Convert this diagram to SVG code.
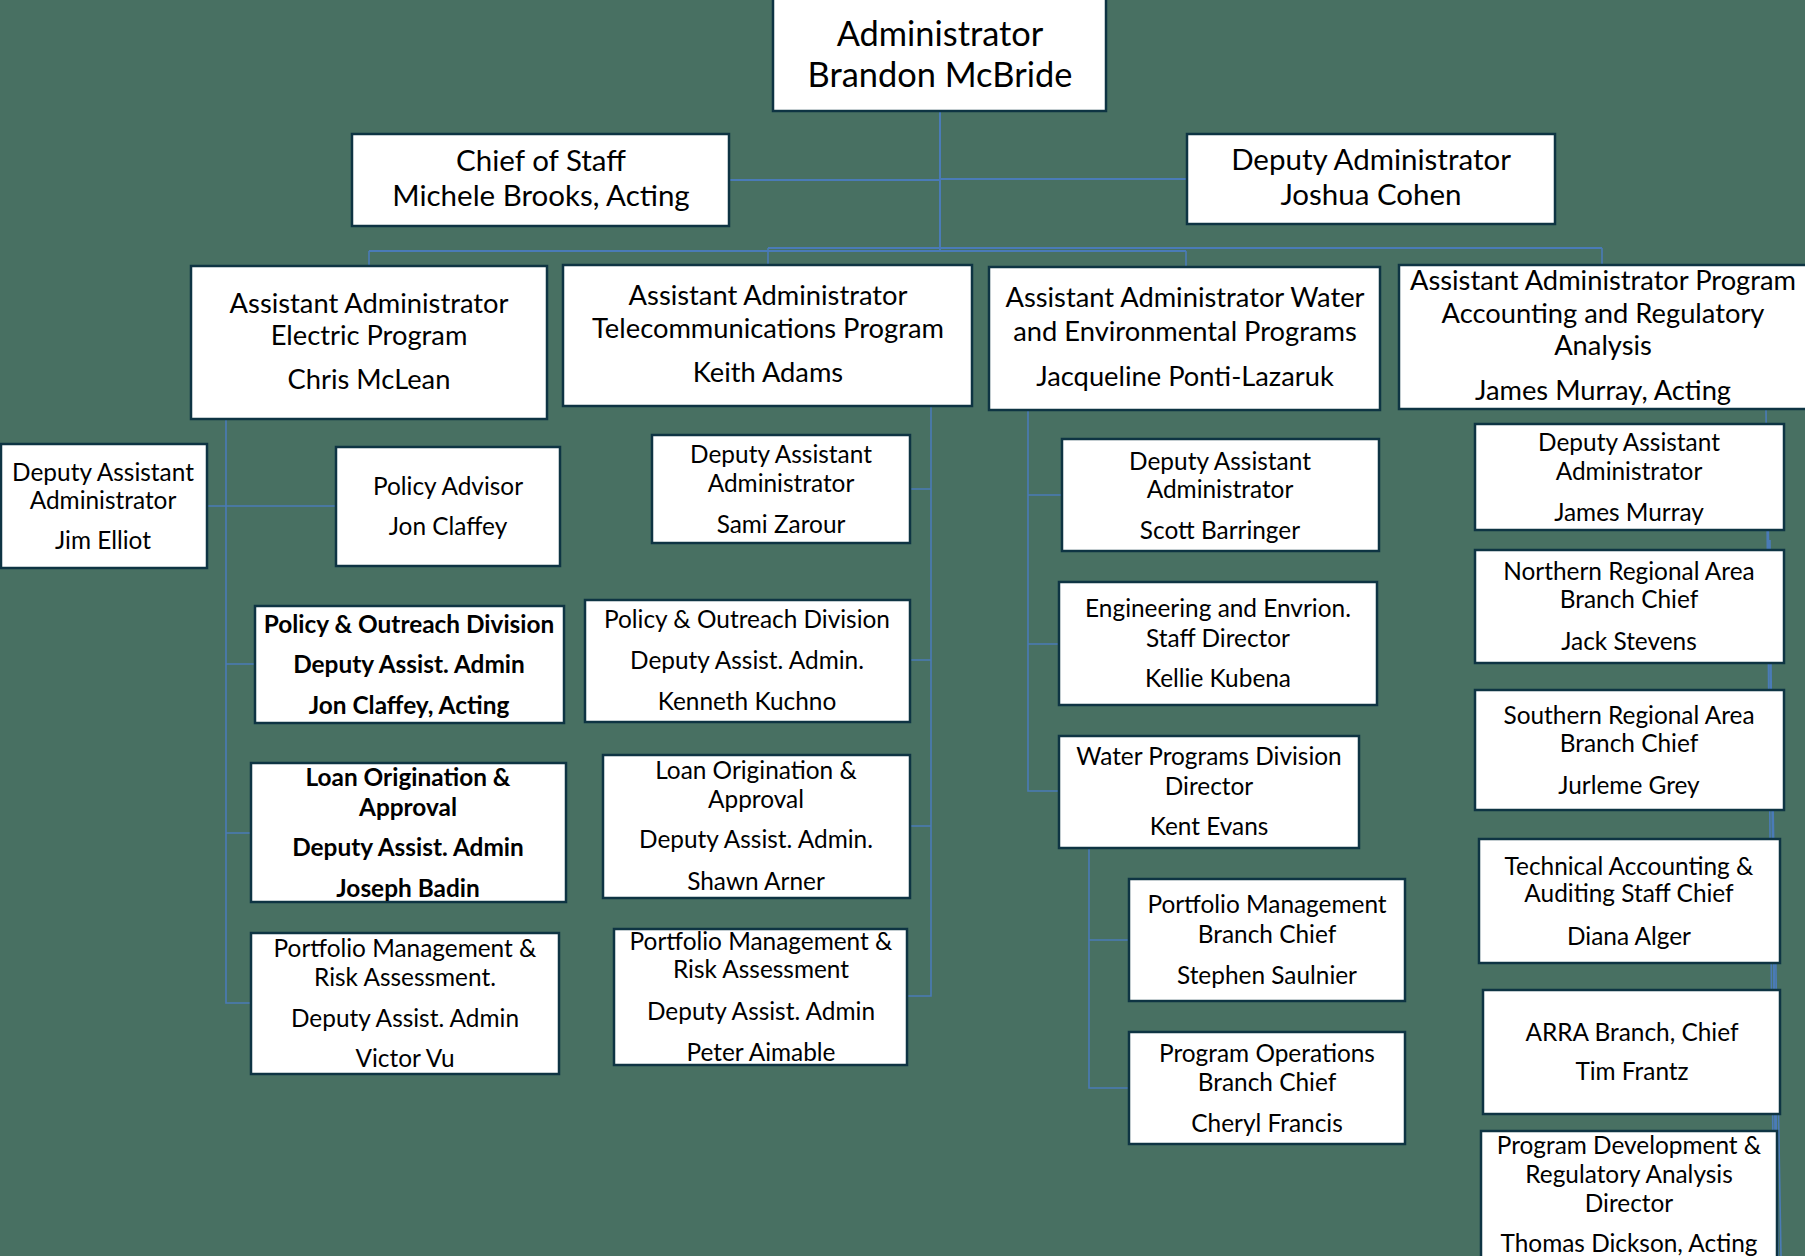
<svg xmlns="http://www.w3.org/2000/svg" width="1805" height="1256" viewBox="0 0 1805 1256">
<style>
.box{fill:#fff;stroke:#0e3443;stroke-width:2.5}
.c{fill:none;stroke:#4a7bb7;stroke-width:1.6}
.c2{fill:none;stroke:#4a7bb7;stroke-width:2}
text{font-family:Lato,"Liberation Sans",sans-serif;fill:#000;text-anchor:middle}
.t1{font-size:34.4px}
.t2{font-size:29.5px}
.t3{font-size:27.3px}
.t4{font-size:24.4px}
.b{font-weight:bold}
</style>
<rect width="1805" height="1256" fill="#487062"/>
<g id="connectors">
<path class="c2" d="M940 112V251M729 180H940M940 179H1187"/>
<path class="c2" d="M369 251H1186M768 248H1602"/>
<path class="c" d="M369 251V266M768 248V265M1186 251V267M1602 248V265"/>
<path class="c" d="M226 419V1003H251M207 506H336M226 664H255M226 833H251"/>
<path class="c" d="M931 406V996H907M910 489H931M910 660H931M910 826H931"/>
<path class="c" d="M1028 410V791H1059M1028 495H1062M1028 644H1059"/>
<path class="c" d="M1089 848V1088H1129M1089 940H1129"/>
<path class="c" d="M1766 409L1774 1256M1767 430L1778 1256M1768 520L1781 1256M1770 540L1776 1256"/>
</g>
<g id="admin"><rect class="box" x="773" y="-3" width="333" height="114"/><text class="t1" x="940" y="46">Administrator</text><text class="t1" x="940" y="87">Brandon McBride</text></g>
<g id="chief"><rect class="box" x="352" y="134" width="377" height="92"/><text class="t2" x="541" y="171">Chief of Staff</text><text class="t2" x="541" y="206">Michele Brooks, Acting</text></g>
<g id="deputy"><rect class="box" x="1187" y="134" width="368" height="90"/><text class="t2" x="1371" y="170">Deputy Administrator</text><text class="t2" x="1371" y="205">Joshua Cohen</text></g>
<g id="aa-electric"><rect class="box" x="191" y="266" width="356" height="153"/><text class="t3" x="369" y="313">Assistant Administrator</text><text class="t3" x="369" y="345">Electric Program</text><text class="t3" x="369" y="389">Chris McLean</text></g>
<g id="aa-telecom"><rect class="box" x="563" y="265" width="409" height="141"/><text class="t3" x="768" y="305">Assistant Administrator</text><text class="t3" x="768" y="338">Telecommunications Program</text><text class="t3" x="768" y="382">Keith Adams</text></g>
<g id="aa-water"><rect class="box" x="989" y="267" width="391" height="143"/><text class="t3" x="1185" y="307">Assistant Administrator Water</text><text class="t3" x="1185" y="341">and Environmental Programs</text><text class="t3" x="1185" y="386">Jacqueline Ponti-Lazaruk</text></g>
<g id="aa-program"><rect class="box" x="1399" y="265" width="412" height="144"/><text class="t3" x="1603" y="290">Assistant Administrator Program</text><text class="t3" x="1603" y="323">Accounting and Regulatory</text><text class="t3" x="1603" y="355">Analysis</text><text class="t3" x="1603" y="400">James Murray, Acting</text></g>
<g id="jim-elliot"><rect class="box" x="1" y="444" width="206" height="124"/><text class="t4" x="103" y="481">Deputy Assistant</text><text class="t4" x="103" y="509">Administrator</text><text class="t4" x="103" y="549">Jim Elliot</text></g>
<g id="policy-advisor"><rect class="box" x="336" y="447" width="224" height="119"/><text class="t4" x="448" y="495">Policy Advisor</text><text class="t4" x="448" y="535">Jon Claffey</text></g>
<g id="electric-policy"><rect class="box" x="255" y="606" width="309" height="117"/><text class="t4 b" x="409" y="633">Policy &amp; Outreach Division</text><text class="t4 b" x="409" y="673">Deputy Assist. Admin</text><text class="t4 b" x="409" y="714">Jon Claffey, Acting</text></g>
<g id="electric-loan"><rect class="box" x="251" y="763" width="315" height="139"/><text class="t4 b" x="408" y="786">Loan Origination &amp;</text><text class="t4 b" x="408" y="816">Approval</text><text class="t4 b" x="408" y="856">Deputy Assist. Admin</text><text class="t4 b" x="408" y="897">Joseph Badin</text></g>
<g id="electric-portfolio"><rect class="box" x="251" y="933" width="308" height="141"/><text class="t4" x="405" y="957">Portfolio Management &amp;</text><text class="t4" x="405" y="986">Risk Assessment.</text><text class="t4" x="405" y="1027">Deputy Assist. Admin</text><text class="t4" x="405" y="1067">Victor Vu</text></g>
<g id="sami"><rect class="box" x="652" y="435" width="258" height="108"/><text class="t4" x="781" y="463">Deputy Assistant</text><text class="t4" x="781" y="492">Administrator</text><text class="t4" x="781" y="533">Sami Zarour</text></g>
<g id="telecom-policy"><rect class="box" x="585" y="600" width="325" height="122"/><text class="t4" x="747" y="628">Policy &amp; Outreach Division</text><text class="t4" x="747" y="669">Deputy Assist. Admin.</text><text class="t4" x="747" y="710">Kenneth Kuchno</text></g>
<g id="telecom-loan"><rect class="box" x="603" y="755" width="307" height="143"/><text class="t4" x="756" y="779">Loan Origination &amp;</text><text class="t4" x="756" y="808">Approval</text><text class="t4" x="756" y="848">Deputy Assist. Admin.</text><text class="t4" x="756" y="890">Shawn Arner</text></g>
<g id="telecom-portfolio"><rect class="box" x="614" y="929" width="293" height="136"/><text class="t4" x="761" y="950">Portfolio Management &amp;</text><text class="t4" x="761" y="978">Risk Assessment</text><text class="t4" x="761" y="1020">Deputy Assist. Admin</text><text class="t4" x="761" y="1061">Peter Aimable</text></g>
<g id="scott"><rect class="box" x="1062" y="439" width="317" height="112"/><text class="t4" x="1220" y="470">Deputy Assistant</text><text class="t4" x="1220" y="498">Administrator</text><text class="t4" x="1220" y="539">Scott Barringer</text></g>
<g id="kellie"><rect class="box" x="1059" y="582" width="318" height="123"/><text class="t4" x="1218" y="617">Engineering and Envrion.</text><text class="t4" x="1218" y="647">Staff Director</text><text class="t4" x="1218" y="687">Kellie Kubena</text></g>
<g id="kent"><rect class="box" x="1059" y="736" width="300" height="112"/><text class="t4" x="1209" y="765">Water Programs Division</text><text class="t4" x="1209" y="795">Director</text><text class="t4" x="1209" y="835">Kent Evans</text></g>
<g id="stephen"><rect class="box" x="1129" y="879" width="276" height="122"/><text class="t4" x="1267" y="913">Portfolio Management</text><text class="t4" x="1267" y="943">Branch Chief</text><text class="t4" x="1267" y="984">Stephen Saulnier</text></g>
<g id="cheryl"><rect class="box" x="1129" y="1032" width="276" height="112"/><text class="t4" x="1267" y="1062">Program Operations</text><text class="t4" x="1267" y="1091">Branch Chief</text><text class="t4" x="1267" y="1132">Cheryl Francis</text></g>
<g id="james"><rect class="box" x="1475" y="424" width="309" height="106"/><text class="t4" x="1629" y="451">Deputy Assistant</text><text class="t4" x="1629" y="480">Administrator</text><text class="t4" x="1629" y="521">James Murray</text></g>
<g id="jack"><rect class="box" x="1475" y="550" width="309" height="113"/><text class="t4" x="1629" y="580">Northern Regional Area</text><text class="t4" x="1629" y="608">Branch Chief</text><text class="t4" x="1629" y="650">Jack Stevens</text></g>
<g id="jurleme"><rect class="box" x="1475" y="690" width="309" height="120"/><text class="t4" x="1629" y="724">Southern Regional Area</text><text class="t4" x="1629" y="752">Branch Chief</text><text class="t4" x="1629" y="794">Jurleme Grey</text></g>
<g id="diana"><rect class="box" x="1479" y="839" width="301" height="124"/><text class="t4" x="1629" y="875">Technical Accounting &amp;</text><text class="t4" x="1629" y="902">Auditing Staff Chief</text><text class="t4" x="1629" y="945">Diana Alger</text></g>
<g id="arra"><rect class="box" x="1483" y="990" width="297" height="124"/><text class="t4" x="1632" y="1041">ARRA Branch, Chief</text><text class="t4" x="1632" y="1080">Tim Frantz</text></g>
<g id="thomas"><rect class="box" x="1481" y="1131" width="296" height="140"/><text class="t4" x="1629" y="1154">Program Development &amp;</text><text class="t4" x="1629" y="1183">Regulatory Analysis</text><text class="t4" x="1629" y="1212">Director</text><text class="t4" x="1629" y="1252">Thomas Dickson, Acting</text></g>
</svg>
